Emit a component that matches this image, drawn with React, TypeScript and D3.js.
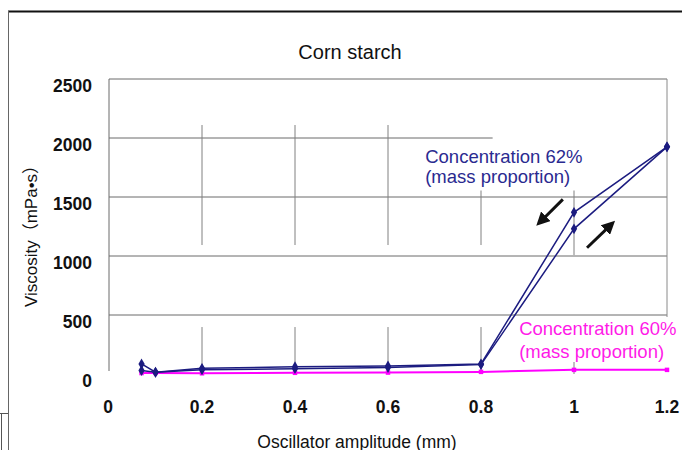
import React from "react";
import * as d3 from "d3";

// ---- data ----
const ampTicks = [0, 0.2, 0.4, 0.6, 0.8, 1, 1.2];
const viscTicks = [0, 500, 1000, 1500, 2000, 2500];

// 62% – increasing amplitude sweep
const up62X = [0.07, 0.1, 0.2, 0.4, 0.6, 0.8, 1.0, 1.2];
const up62Y = [30, 15, 35, 45, 55, 80, 1230, 1925];
// 62% – decreasing amplitude sweep
const down62X = [1.2, 1.0, 0.8, 0.6, 0.4, 0.2, 0.1, 0.07];
const down62Y = [1925, 1370, 85, 68, 62, 48, 15, 85];
// 60%
const c60X = [0.07, 0.1, 0.2, 0.4, 0.6, 0.8, 1.0, 1.2];
const c60Y = [8, 8, 6, 10, 12, 18, 35, 35];

const title = "Corn starch";
const xTitle = "Oscillator amplitude (mm)";
const yTitle = "Viscosity（mPa•s）";
const label62 = ["Concentration 62%", "(mass proportion)"];
const label60 = ["Concentration 60%", "(mass proportion)"];

// vertical grid segments (x, y-from, y-to) in data units
const vGridX = [0.2, 0.4, 0.6, 0.8, 1.0];
const vGridUpper = [[2110, 1093], [2110, 1093], [2110, 1093], [1555, 1093], [1555, 1008]];
const vGridLower = [[398, 0], [398, 0], [398, 0], [398, 0], [398, 0]];

// arrows [x1,y1,x2,y2] in data units (head at x2,y2)
const arrows = [
  [0.976, 1480, 0.925, 1280],
  [1.028, 1070, 1.082, 1275],
];

const W = 682;
const H = 450;
const NAVY = "#1c1c80";
const NAVY_TXT = "#2a2a90";
const PINK = "#ff00ff";
const PINK_TXT = "#ff1ae8";
const FONT = "'Liberation Sans', Arial, 'Noto Sans CJK JP', sans-serif";

export default function App() {
  const x = d3.scaleLinear().domain([0, 1.2]).range([109, 667]);
  const y = d3.scaleLinear().domain([0, 2500]).range([374, 79]);
  const line = d3
    .line<[number, number]>()
    .x((d) => x(d[0]))
    .y((d) => y(d[1]));
  const up = up62X.map((v, i) => [v, up62Y[i]] as [number, number]);
  const down = down62X.map((v, i) => [v, down62Y[i]] as [number, number]);
  const pink = c60X.map((v, i) => [v, c60Y[i]] as [number, number]);
  const diamond = d3.symbol(d3.symbolDiamond, 34)()!;
  const square = d3.symbol(d3.symbolSquare, 20)()!;

  return (
    <svg
      width={W}
      height={H}
      style={{ position: "absolute", left: 0, top: 0, background: "#fff" }}
      fontFamily={FONT}
    >
      <rect x={0} y={0} width={W} height={H} fill="#fff" />
      {/* outer frame */}
      <line x1={8} x2={W} y1={11.5} y2={11.5} stroke="#111" strokeWidth={2} />
      <line x1={8.5} x2={8.5} y1={11} y2={H} stroke="#666" strokeWidth={1} />
      <line x1={0} x2={8} y1={413.5} y2={413.5} stroke="#555" strokeWidth={1} />
      <line x1={1.5} x2={1.5} y1={413} y2={H} stroke="#555" strokeWidth={1} />

      {/* title */}
      <text x={350} y={59} textAnchor="middle" fontSize={20} fill="#111">
        {title}
      </text>

      {/* horizontal gridlines */}
      {viscTicks
        .filter((t) => t > 0)
        .map((t) => (
          <line key={"h" + t} x1={x(0)} x2={x(1.2)} y1={y(t)} y2={y(t)} stroke="#6a6a6a" strokeWidth={1} />
        ))}
      {/* vertical gridlines */}
      {vGridX.map((v, i) => (
        <g key={"v" + v}>
          <line x1={x(v)} x2={x(v)} y1={y(vGridUpper[i][0])} y2={y(vGridUpper[i][1])} stroke="#808080" strokeWidth={1} />
          <line x1={x(v)} x2={x(v)} y1={y(vGridLower[i][0])} y2={y(vGridLower[i][1])} stroke="#808080" strokeWidth={1} />
        </g>
      ))}
      {/* plot border left/right */}
      <line x1={x(0)} x2={x(0)} y1={y(2500)} y2={y(0) - 3} stroke="#6a6a6a" strokeWidth={1} />

      {/* label masks */}
      <rect x={x(0.825)} y={128} width={x(1.2) - x(0.825)} height={62} fill="#fff" />
      <rect x={x(0.875)} y={318} width={x(1.2) - x(0.875) + 2} height={44} fill="#fff" />
      <line x1={x(1.2)} x2={x(1.2)} y1={y(2500)} y2={y(500) + 2} stroke="#8a8a8a" strokeWidth={1} />

      {/* y tick labels */}
      {viscTicks.map((t) => (
        <text key={"yt" + t} x={92} y={y(t) + 12.5} textAnchor="end" fontSize={17.5} fontWeight="bold" fill="#111">
          {t}
        </text>
      ))}
      {/* x tick labels */}
      {ampTicks.map((t) => (
        <text key={"xt" + t} x={x(t) - (t === 0 ? 1 : 0)} y={413} textAnchor="middle" fontSize={17.5} fontWeight="bold" fill="#111">
          {t}
        </text>
      ))}
      {/* axis titles */}
      <text x={357} y={448} textAnchor="middle" fontSize={17.5} fill="#111">
        {xTitle}
      </text>
      <text transform="translate(37,232) rotate(-90)" textAnchor="middle" fontSize={17} fill="#111">
        {yTitle}
      </text>

      {/* series */}
      <path d={line(pink)!} fill="none" stroke={PINK} strokeWidth={2} />
      {pink.map((d, i) => (
        <path key={"p" + i} d={square} transform={`translate(${x(d[0])},${y(d[1])})`} fill={PINK} />
      ))}
      <path d={line(up)!} fill="none" stroke={NAVY} strokeWidth={1.5} />
      <path d={line(down)!} fill="none" stroke={NAVY} strokeWidth={1.5} />
      {[...up, ...down].map((d, i) => (
        <path key={"n" + i} d={diamond} transform={`translate(${x(d[0])},${y(d[1])})`} fill={NAVY} />
      ))}

      {/* arrows */}
      <defs>
        <marker id="ah" viewBox="0 0 10 10" refX="7" refY="5" markerWidth="4.5" markerHeight="4.5" orient="auto">
          <path d="M0,0 L10,5 L0,10 z" fill="#111" />
        </marker>
      </defs>
      {arrows.map((a, i) => (
        <line
          key={"a" + i}
          x1={x(a[0])}
          y1={y(a[1])}
          x2={x(a[2])}
          y2={y(a[3])}
          stroke="#111"
          strokeWidth={3}
          markerEnd="url(#ah)"
        />
      ))}

      {/* labels */}
      <text x={x(0.68)} y={y(1790)} fontSize={18.5} fill={NAVY_TXT}>
        <tspan x={x(0.68)}>{label62[0]}</tspan>
        <tspan x={x(0.68)} dy={20}>{label62[1]}</tspan>
      </text>
      <text x={x(0.882)} y={y(330)} fontSize={18.5} fill={PINK_TXT}>
        <tspan x={x(0.882)}>{label60[0]}</tspan>
        <tspan x={x(0.882)} dy={23}>{label60[1]}</tspan>
      </text>
    </svg>
  );
}
